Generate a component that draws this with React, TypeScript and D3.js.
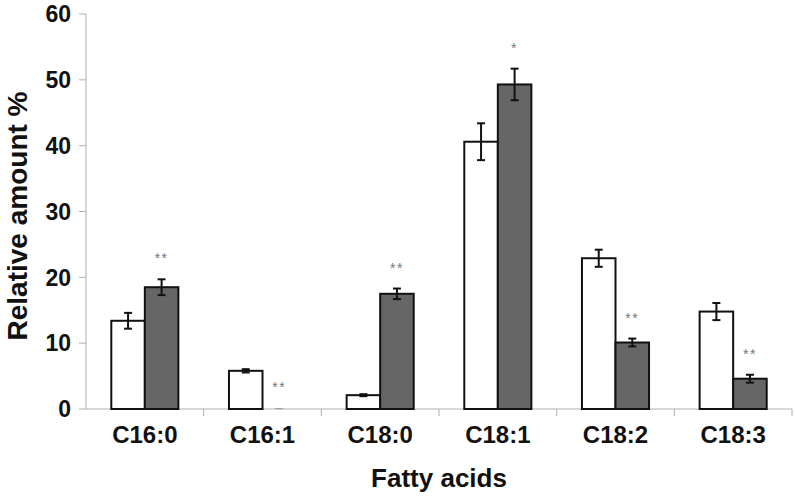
import React from "react";
import * as d3 from "d3";

const categories = ["C16:0", "C16:1", "C18:0", "C18:1", "C18:2", "C18:3"];
const controlValues = [13.4, 5.8, 2.1, 40.6, 22.9, 14.8];
const controlErrors = [1.2, 0.25, 0.15, 2.8, 1.3, 1.3];
const treatedValues = [18.5, 0.05, 17.5, 49.3, 10.1, 4.6];
const treatedErrors = [1.2, 0.05, 0.8, 2.4, 0.6, 0.6];
const significance = ["**", "**", "**", "*", "**", "**"];
const yTicks = [0, 10, 20, 30, 40, 50, 60];

const W = 795;
const H = 496;
const margin = { left: 86, right: 3, top: 14, bottom: 87 };

export default function App() {
  const x = d3
    .scaleBand<string>()
    .domain(categories)
    .range([margin.left, W - margin.right])
    .paddingInner(0)
    .paddingOuter(0);
  const y = d3.scaleLinear().domain([0, 60]).range([H - margin.bottom, margin.top]);
  const bw = x.bandwidth() * 0.285;
  const font = "'Liberation Sans', Arial, sans-serif";
  const axisColor = "#b0b0b0";
  const y0 = y(0);

  return (
    <svg
      width={W}
      height={H}
      style={{ position: "absolute", left: 0, top: 0, background: "#fff" }}
      fontFamily={font}
    >
      {/* y axis */}
      <line x1={margin.left} x2={margin.left} y1={y(60)} y2={y0} stroke={axisColor} strokeWidth={1} />
      {yTicks.map((t) => (
        <g key={t}>
          <line x1={margin.left - 7} x2={margin.left} y1={y(t)} y2={y(t)} stroke={axisColor} />
          <text
            x={margin.left - 15}
            y={y(t)}
            dy="0.36em"
            textAnchor="end"
            fontSize={23}
            fontWeight="bold"
            fill="#111"
          >
            {t}
          </text>
        </g>
      ))}
      {/* x axis */}
      <line x1={margin.left} x2={W - margin.right} y1={y0} y2={y0} stroke={axisColor} />
      {categories.map((c, i) => (
        <line
          key={"tk" + i}
          x1={(x(c) as number) + x.bandwidth()}
          x2={(x(c) as number) + x.bandwidth()}
          y1={y0}
          y2={y0 + 7}
          stroke={axisColor}
        />
      ))}
      {categories.map((c) => (
        <text
          key={"lb" + c}
          x={(x(c) as number) + x.bandwidth() / 2}
          y={y0 + 34}
          textAnchor="middle"
          fontSize={24}
          fontWeight="bold"
          fill="#111"
        >
          {c}
        </text>
      ))}
      {/* bars */}
      {categories.map((c, i) => {
        const cx = (x(c) as number) + x.bandwidth() / 2;
        const v1 = controlValues[i];
        const v2 = treatedValues[i];
        const e1 = controlErrors[i];
        const e2 = treatedErrors[i];
        const x1c = cx - bw / 2;
        const x2c = cx + bw / 2;
        const cap = 4;
        const starY = y(v2 + e2) - 16;
        return (
          <g key={"b" + c}>
            <rect x={cx - bw} y={y(v1)} width={bw} height={y0 - y(v1)} fill="#fff" stroke="#111" strokeWidth={2} />
            {v2 > 0.1 && (
              <rect x={cx} y={y(v2)} width={bw} height={y0 - y(v2)} fill="#666" stroke="#111" strokeWidth={2} />
            )}
            <g stroke="#111" strokeWidth={2}>
              <line x1={x1c} x2={x1c} y1={y(v1 + e1)} y2={y(v1 - e1)} />
              <line x1={x1c - cap} x2={x1c + cap} y1={y(v1 + e1)} y2={y(v1 + e1)} />
              <line x1={x1c - cap} x2={x1c + cap} y1={y(v1 - e1)} y2={y(v1 - e1)} />
            </g>
            {v2 > 0.1 ? (
              <g stroke="#111" strokeWidth={2}>
                <line x1={x2c} x2={x2c} y1={y(v2 + e2)} y2={y(v2 - e2)} />
                <line x1={x2c - cap} x2={x2c + cap} y1={y(v2 + e2)} y2={y(v2 + e2)} />
                <line x1={x2c - cap} x2={x2c + cap} y1={y(v2 - e2)} y2={y(v2 - e2)} />
              </g>
            ) : (
              <line x1={x2c - cap} x2={x2c + cap} y1={y(v2)} y2={y(v2)} stroke="#999" strokeWidth={1} />
            )}
            <text x={x2c} y={starY} textAnchor="middle" fontSize={14} fill="#777" letterSpacing={1.5}>
              {significance[i]}
            </text>
          </g>
        );
      })}
      {/* axis titles */}
      <text
        x={(margin.left + W - margin.right) / 2}
        y={487}
        textAnchor="middle"
        fontSize={26}
        fontWeight="bold"
        fill="#111"
      >
        Fatty acids
      </text>
      <text
        transform={`translate(27, 216) rotate(-90)`}
        textAnchor="middle"
        fontSize={28}
        fontWeight="bold"
        fill="#111"
      >
        Relative amount %
      </text>
    </svg>
  );
}
